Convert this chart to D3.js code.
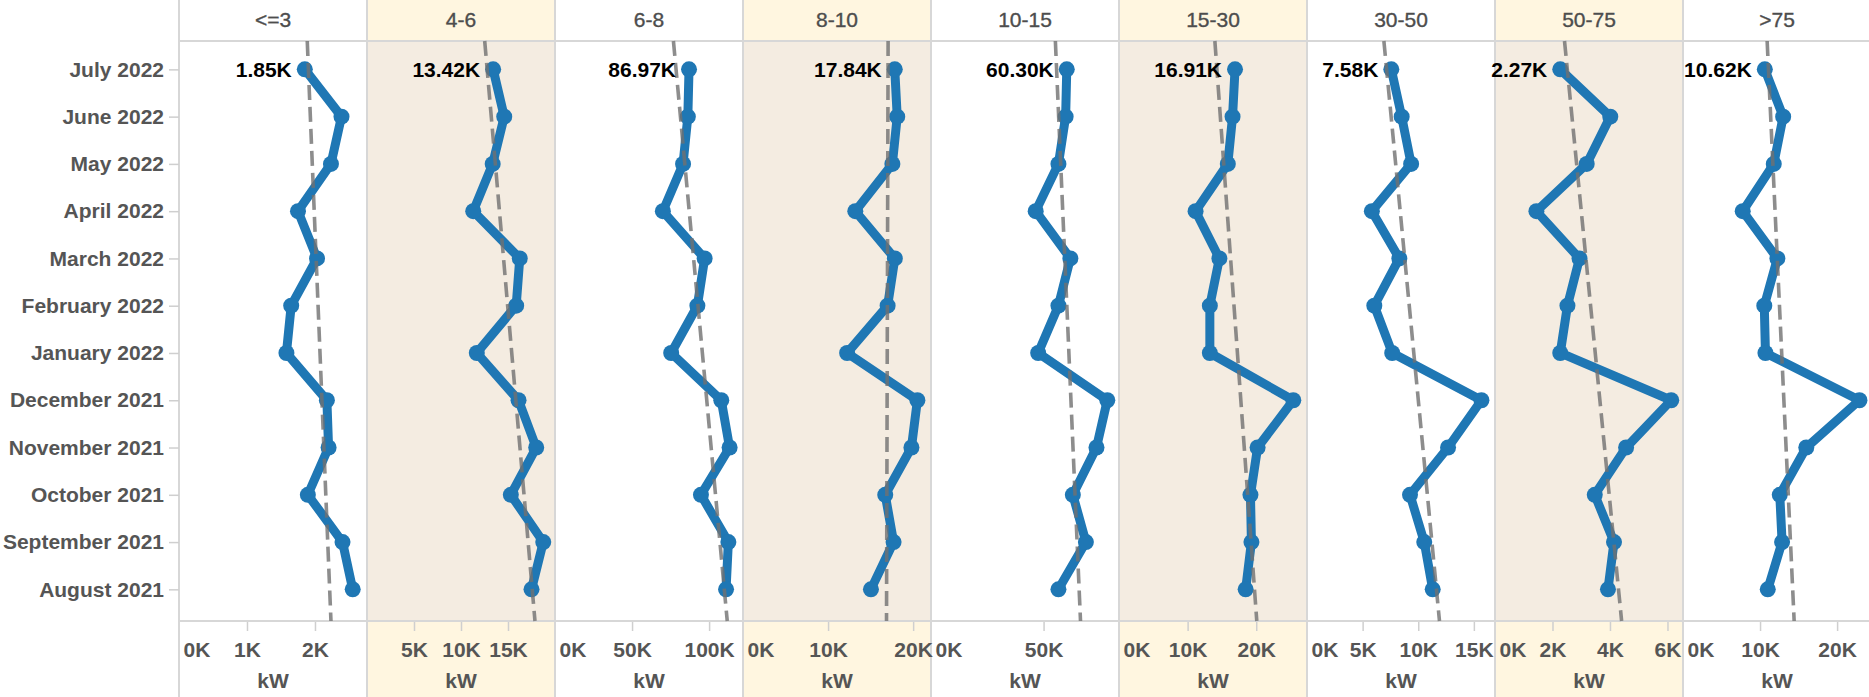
<!DOCTYPE html>
<html>
<head>
<meta charset="utf-8">
<script src="https://cdn.jsdelivr.net/npm/d3@7"></script>
<style>
  body { margin: 0; background: #fff; }
  svg { display: block; font-family: "Liberation Sans", Arial, sans-serif; }
</style>
</head>
<body>
<svg id="chart" width="1869" height="697"></svg>
<script>
// Months, newest first (top row to bottom row)
const months = [
  "July 2022", "June 2022", "May 2022", "April 2022", "March 2022", "February 2022",
  "January 2022", "December 2021", "November 2021", "October 2021", "September 2021", "August 2021"
];

// Size bands shown as column panels
const groups = ["<=3", "4-6", "6-8", "8-10", "10-15", "15-30", "30-50", "50-75", ">75"];

// Monthly kW per band, same order as months
const kwUpTo3   = [1850, 2390, 2235, 1750, 2030, 1650, 1580, 2175, 2200, 1895, 2405, 2555];
const kw4to6    = [13420, 14600, 13370, 11300, 16250, 15870, 11680, 16120, 18000, 15300, 18750, 17500];
const kw6to8    = [86970, 86200, 83100, 70000, 97100, 92400, 75400, 107900, 113300, 94700, 112500, 111000];
const kw8to10   = [17840, 18130, 17560, 13200, 17850, 17000, 12240, 20500, 19800, 16720, 17700, 15040];
const kw10to15  = [60300, 59800, 56600, 46500, 61900, 56600, 47600, 78300, 73500, 63000, 68800, 56600];
const kw15to30  = [16910, 16550, 15860, 11160, 14630, 13240, 13240, 25400, 20200, 19160, 19300, 18460];
const kw30to50  = [7580, 8510, 9360, 5830, 8300, 6050, 7660, 15680, 12680, 9260, 10540, 11300];
const kw50to75  = [2270, 4010, 3190, 1440, 2940, 2520, 2270, 6130, 4560, 3470, 4140, 3930];
const kwOver75  = [10620, 13000, 11780, 7750, 12250, 10550, 10700, 22900, 16000, 12560, 12860, 11000];

// Upper end of each panel's kW axis
const axisMax = [2765, 20000, 122000, 22100, 83500, 27400, 16900, 6540, 24400];

// Tick values for each panel's kW axis
const ticksUpTo3  = [0, 1000, 2000];
const ticks4to6   = [5000, 10000, 15000];
const ticks6to8   = [0, 50000, 100000];
const ticks8to10  = [0, 10000, 20000];
const ticks10to15 = [0, 50000];
const ticks15to30 = [0, 10000, 20000];
const ticks30to50 = [0, 5000, 10000, 15000];
const ticks50to75 = [0, 2000, 4000, 6000];
const ticksOver75 = [0, 10000, 20000];

const series = [kwUpTo3, kw4to6, kw6to8, kw8to10, kw10to15, kw15to30, kw30to50, kw50to75, kwOver75];
const tickSets = [ticksUpTo3, ticks4to6, ticks6to8, ticks8to10, ticks10to15, ticks15to30, ticks30to50, ticks50to75, ticksOver75];

const W = 1869, H = 697;
const left = 179, panelW = 188;
const headerBottom = 41, paneBottom = 621;
const blue = "#1f77b4";
const shade = "#f4ece1", headShade = "#fff6e0", rule = "#d7d7d7", textGray = "#555";

const svg = d3.select("#chart");

const y = d3.scalePoint().domain(months).range([headerBottom, 617.7]).padding(0.6);
const step = y.step();
const y0 = y(months[0]);

const kFmt = v => d3.format(".2f")(v / 1000) + "K";
const tickFmt = v => (v / 1000) + "K";

// Panel backgrounds
groups.forEach((g, i) => {
  if (i % 2 === 1) {
    const x0 = left + i * panelW;
    svg.append("rect").attr("x", x0).attr("y", 0).attr("width", panelW).attr("height", headerBottom).attr("fill", headShade);
    svg.append("rect").attr("x", x0).attr("y", headerBottom).attr("width", panelW).attr("height", paneBottom - headerBottom).attr("fill", shade);
    svg.append("rect").attr("x", x0).attr("y", paneBottom).attr("width", panelW).attr("height", H - paneBottom).attr("fill", headShade);
  }
});

// Divider rules
const rules = svg.append("g").attr("stroke", rule).attr("stroke-width", 2);
d3.range(groups.length + 1).forEach(k => {
  const x = left + k * panelW;
  rules.append("line").attr("x1", x).attr("x2", x).attr("y1", 0).attr("y2", H);
});
rules.append("line").attr("x1", left).attr("x2", W).attr("y1", headerBottom).attr("y2", headerBottom);
rules.append("line").attr("x1", left - 1).attr("x2", W).attr("y1", paneBottom).attr("y2", paneBottom);

// Row axis (months)
const rowAxis = svg.append("g")
  .attr("transform", `translate(${left},0)`)
  .call(d3.axisLeft(y).tickSize(10).tickPadding(5));
rowAxis.select(".domain").remove();
rowAxis.selectAll(".tick line").attr("stroke", "#cfcfcf").attr("stroke-width", 1.5);
rowAxis.selectAll(".tick text")
  .attr("fill", textGray).attr("font-size", 21).attr("font-weight", "bold")
  .attr("font-family", "'Liberation Sans', Arial, sans-serif");

groups.forEach((g, i) => {
  const x0 = left + i * panelW;
  const vals = series[i];
  const x = d3.scaleLinear().domain([0, axisMax[i]]).range([x0, x0 + panelW]);
  const pts = months.map((m, j) => ({ m, v: vals[j] }));

  // Header
  svg.append("text")
    .attr("x", x0 + panelW / 2).attr("y", 20).attr("dy", "0.35em")
    .attr("text-anchor", "middle").attr("font-size", 21).attr("fill", "#4d4d4d")
    .attr("stroke", "#4d4d4d").attr("stroke-width", 0.35)
    .text(g);

  // Monthly line and points
  svg.append("path")
    .datum(pts)
    .attr("fill", "none").attr("stroke", blue).attr("stroke-width", 9)
    .attr("stroke-linejoin", "round").attr("stroke-linecap", "round")
    .attr("d", d3.line().x(d => x(d.v)).y(d => y(d.m)));
  svg.append("g").selectAll("circle").data(pts).join("circle")
    .attr("cx", d => x(d.v)).attr("cy", d => y(d.m)).attr("r", 8).attr("fill", blue);

  // Linear trend (least squares on row index), extended across the pane
  const idx = vals.map((v, j) => j);
  const mi = d3.mean(idx), mv = d3.mean(vals);
  const slope = d3.sum(idx, j => (j - mi) * (vals[j] - mv)) / d3.sum(idx, j => (j - mi) ** 2);
  const fit = t => mv + slope * (t - mi);
  const tTop = (headerBottom - y0) / step, tBot = (paneBottom - y0) / step;
  svg.append("line")
    .attr("x1", x(fit(tTop))).attr("y1", headerBottom)
    .attr("x2", x(fit(tBot))).attr("y2", paneBottom)
    .attr("stroke", "#707070").attr("stroke-opacity", 0.8)
    .attr("stroke-width", 3.6).attr("stroke-dasharray", "15,7");

  // Latest-month value label
  svg.append("text")
    .attr("x", x(vals[0]) - 13).attr("y", y(months[0])).attr("dy", "0.35em")
    .attr("text-anchor", "end").attr("font-size", 21).attr("font-weight", "bold").attr("fill", "#000")
    .text(kFmt(vals[0]));

  // kW axis
  const ax = svg.append("g")
    .attr("transform", `translate(0,${paneBottom + 1})`)
    .call(d3.axisBottom(x).tickValues(tickSets[i]).tickFormat(tickFmt).tickSize(9).tickPadding(10));
  ax.select(".domain").remove();
  ax.selectAll(".tick line").attr("stroke", "#cfcfcf").attr("stroke-width", 1.5)
    .attr("opacity", d => d === 0 ? 0 : 1);
  ax.selectAll(".tick text")
    .attr("fill", textGray).attr("font-size", 21).attr("font-weight", "bold")
    .attr("font-family", "'Liberation Sans', Arial, sans-serif")
    .attr("y", 28).attr("dy", "0.35em")
    .attr("text-anchor", d => d === 0 ? "start" : "middle")
    .attr("x", d => d === 0 ? 4 : 0);
  svg.append("text")
    .attr("x", x0 + panelW / 2).attr("y", 681).attr("dy", "0.35em")
    .attr("text-anchor", "middle").attr("font-size", 21).attr("font-weight", "bold").attr("fill", textGray)
    .text("kW");
});
</script>
</body>
</html>
